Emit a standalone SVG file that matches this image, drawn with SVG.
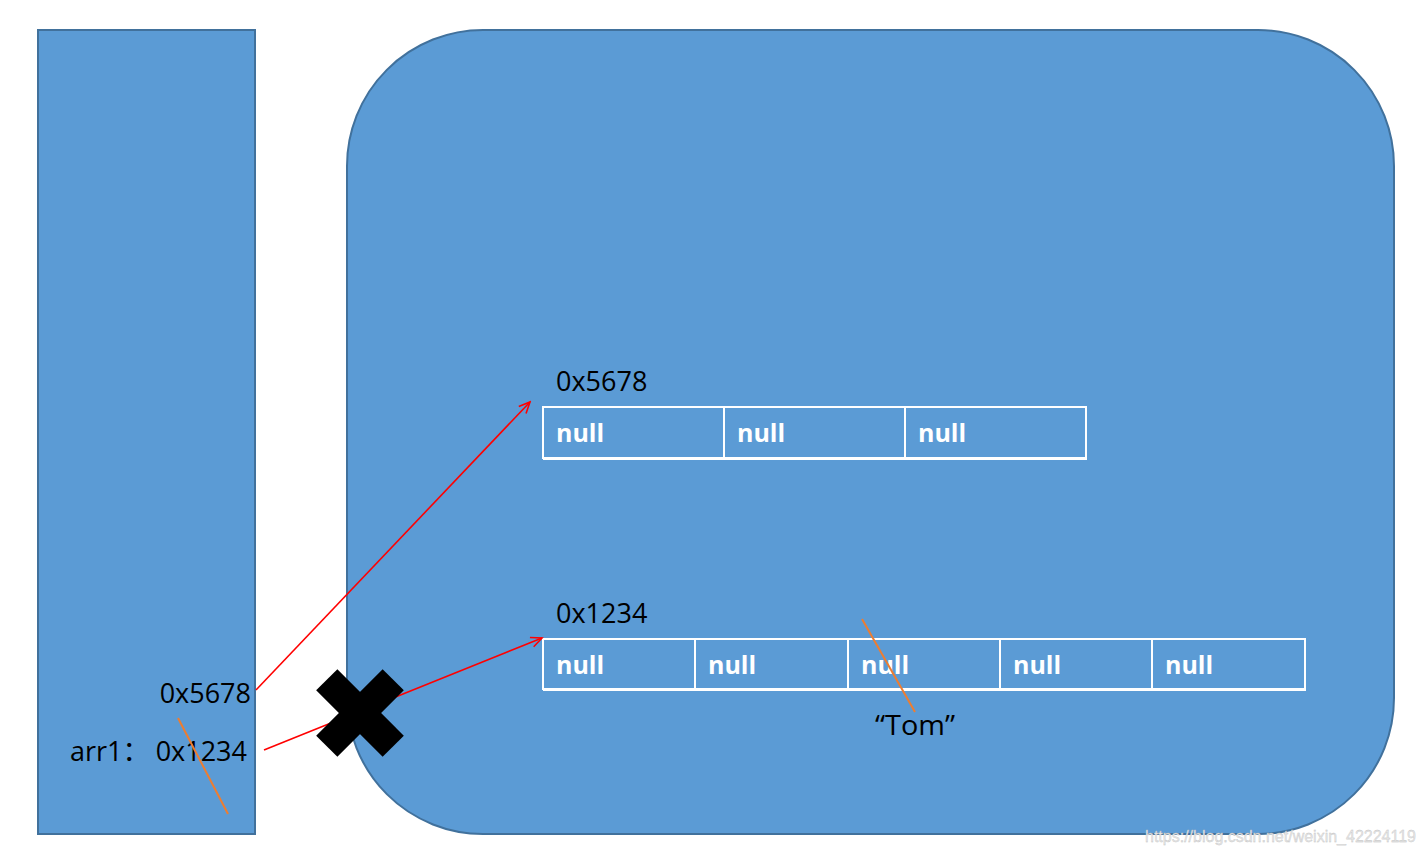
<svg xmlns="http://www.w3.org/2000/svg" width="1426" height="854" viewBox="0 0 1426 854">
<defs>
<style>
.box{fill:#5B9BD5;stroke:#41719C;stroke-width:2}
.cell{fill:none;stroke:#FFFFFF;stroke-width:2}
.base{stroke:#FFFFFF;stroke-width:3}
.nul{font-family:"Open Sans","Noto Sans",sans-serif;font-weight:bold;font-size:25px;fill:#FFFFFF}
.lbl{font-family:"Open Sans","Noto Sans","Noto Sans CJK SC",sans-serif;font-size:27px;fill:#000000}
.ref{stroke:#FF0000;stroke-width:1.6;fill:none}
.orn{stroke:#ED7D31;stroke-width:2}
</style>
<marker id="arr" markerWidth="14" markerHeight="14" refX="12" refY="6" orient="auto" markerUnits="userSpaceOnUse">
<path d="M1,1 L12,6 L1,11" fill="none" stroke="#FF0000" stroke-width="1.6"/>
</marker>
</defs>
<rect width="1426" height="854" fill="#FFFFFF"/>
<g id="stack">
<rect class="box" x="38" y="30" width="217" height="804"/>
</g>
<g id="heap">
<rect class="box" x="347" y="30" width="1047" height="804" rx="136" ry="136"/>
</g>
<g id="array5678">
<text class="lbl" x="556" y="391">0x5678</text>
<rect class="cell" x="543" y="407" width="543" height="51"/>
<line class="cell" x1="724" y1="407" x2="724" y2="458"/>
<line class="cell" x1="905" y1="407" x2="905" y2="458"/>
<line class="base" x1="543" y1="458.5" x2="1087" y2="458.5"/>
<text class="nul" x="556" y="442">null</text>
<text class="nul" x="737" y="442">null</text>
<text class="nul" x="918" y="442">null</text>
</g>
<g id="array1234">
<text class="lbl" x="556" y="623">0x1234</text>
<rect class="cell" x="543" y="639" width="762" height="50"/>
<line class="cell" x1="695" y1="639" x2="695" y2="689"/>
<line class="cell" x1="848" y1="639" x2="848" y2="689"/>
<line class="cell" x1="1000" y1="639" x2="1000" y2="689"/>
<line class="cell" x1="1152" y1="639" x2="1152" y2="689"/>
<line class="base" x1="543" y1="689.5" x2="1306" y2="689.5"/>
<text class="nul" x="556" y="674">null</text>
<text class="nul" x="708" y="674">null</text>
<text class="nul" x="861" y="674">null</text>
<text class="nul" x="1013" y="674">null</text>
<text class="nul" x="1165" y="674">null</text>
</g>
<g id="stack-vars">
<text class="lbl" x="251" y="703" text-anchor="end">0x5678</text>
<text class="lbl" x="70" y="761">arr1：</text>
<text class="lbl" x="247" y="761" text-anchor="end">0x1234</text>
</g>
<g id="connectors">
<line class="ref" x1="256" y1="690" x2="530" y2="402" marker-end="url(#arr)"/>
<line class="ref" x1="264" y1="750" x2="542" y2="638" marker-end="url(#arr)"/>
<line class="orn" x1="178" y1="718" x2="228" y2="814"/>
<line class="orn" x1="862" y1="619" x2="915" y2="712"/>
</g>
<g id="cross" fill="#000000">
<rect x="313" y="698" width="94" height="30" transform="rotate(45 360 713)"/>
<rect x="313" y="698" width="94" height="30" transform="rotate(-45 360 713)"/>
</g>
<g id="tom">
<text class="lbl" x="875" y="735" textLength="80" lengthAdjust="spacingAndGlyphs">“Tom”</text>
</g>
<text x="1145" y="842" font-family="'Liberation Sans',Arial,sans-serif" font-size="16" fill="#E8E8E8" stroke="#BBBBBB" stroke-width="0.3">https://blog.csdn.net/weixin_42224119</text>
</svg>
